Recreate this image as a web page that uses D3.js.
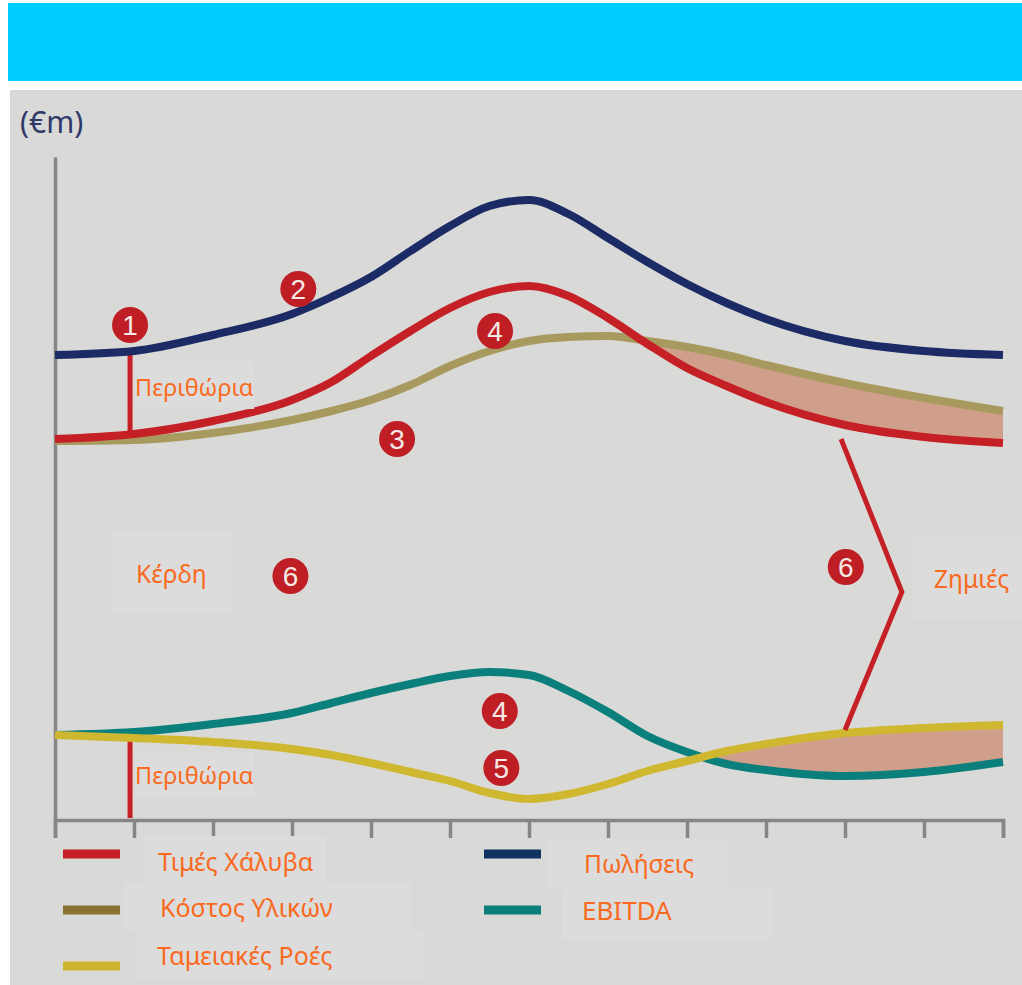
<!DOCTYPE html>
<html>
<head>
<meta charset="utf-8">
<script src="https://cdn.jsdelivr.net/npm/d3@7"></script>
<style>
  html, body { margin: 0; padding: 0; background: #fff; }
  svg { display: block; }
  text { font-family: "Noto Sans", sans-serif; }
</style>
</head>
<body>
<div id="chart"></div>
<script>
// data, half steps on the x axis
let steps = [0, 1, 2, 3, 3.5, 4, 4.5, 5, 5.5, 6, 6.5, 7, 7.5, 8, 8.5, 9, 10, 11, 12];
let sales = [465, 469, 485, 506, 523, 543, 569, 594, 614, 620, 606, 582, 558, 536, 517, 501, 479, 469, 465];
let prices = [381, 386, 399, 420, 438, 464, 489, 512, 528, 534, 524, 502, 476, 452, 434, 418, 395, 383, 377];
let materials = [379, 380, 387, 400, 409, 420, 435, 454, 469, 479, 483, 484, 479, 473, 465, 455, 437, 422, 409];
let ebitda = [85, 88, 96, 107, 117, 127, 136, 144, 148, 145, 129, 108, 84, 68, 56, 50, 44, 48, 58];
let cash = [85, 82, 78, 71, 65, 57, 48, 39, 27, 21, 26, 36, 49, 59, 69, 76, 87, 92, 95];

let xTicks = d3.range(0, 13);
let lossStart = { top: 7.45, bottom: 8.2 };
let marginLines = [
    { x: 0.95, from: 465, to: 386 },
    { x: 0.95, from: 80, to: 2 }
];
let bracket = [[9.95, 381], [10.72, 228], [10, 90]];
let badges = [
    { n: "1", x: 0.95, v: 495 },
    { n: "2", x: 3.08, v: 531 },
    { n: "4", x: 5.57, v: 489 },
    { n: "3", x: 4.33, v: 381 },
    { n: "6", x: 2.98, v: 244 },
    { n: "6", x: 10.01, v: 253 },
    { n: "4", x: 5.63, v: 109 },
    { n: "5", x: 5.65, v: 52 }
];

let series = [
    { name: "materials", values: materials, color: "#a89a5e" },
    { name: "prices", values: prices, color: "#c52026" },
    { name: "sales", values: sales, color: "#1c2a66" },
    { name: "ebitda", values: ebitda, color: "#0b7f7c" },
    { name: "cash", values: cash, color: "#cfb72f" }
];

let legend = [
    { x: 63, y: 854, color: "#c52026" },
    { x: 63, y: 910, color: "#8a7230" },
    { x: 63, y: 966, color: "#ceb42f" },
    { x: 484, y: 854, color: "#0f335f" },
    { x: 484, y: 910, color: "#0b7f7c" }
];

// pale boxes behind the orange labels
let labels = [
    { t: "Περιθώρια", box: [135, 361, 119, 48], x: 135, y: 396, size: 23.5 },
    { t: "Περιθώρια", box: [135, 752, 119, 45], x: 135, y: 784, size: 23.5 },
    { t: "Κέρδη", box: [113, 532, 118, 81], x: 136, y: 583, size: 24.5 },
    { t: "Ζημιές", box: [912, 537, 110, 81], x: 934, y: 588, size: 24.5 },
    { t: "Τιμές Χάλυβα", box: [144, 836, 182, 47], x: 158, y: 871, size: 25 },
    { t: "Κόστος Υλικών", box: [124, 883, 287, 48], x: 160, y: 917, size: 25 },
    { t: "Ταμειακές Ροές", box: [137, 931, 287, 47], x: 157, y: 965, size: 25 },
    { t: "Πωλήσεις", box: [547, 839, 182, 50], x: 584, y: 873, size: 24.5 },
    { t: "EBITDA", box: [562, 889, 210, 51], x: 582, y: 920, size: 26 }
];

let svgwidth = 1022;
let svgheight = 985;

let svg = d3.select("#chart")
    .append("svg")
    .attr("width", svgwidth)
    .attr("height", svgheight);

svg.append("rect").attr("x", 8).attr("y", 3).attr("width", 1014).attr("height", 78).attr("fill", "#00ccff");
svg.append("rect").attr("x", 10).attr("y", 90).attr("width", 1012).attr("height", 895).attr("fill", "#d9d9d7");

let x = d3.scaleLinear().domain([0, 12]).range([55, 1003]);
let y = d3.scaleLinear().domain([0, 663]).range([820, 157]);

let line = d3.line()
    .x((d, i) => x(steps[i]))
    .y(d => y(d))
    .curve(d3.curveMonotoneX);

let band = (upper, lower) => d3.area()
    .x((d, i) => x(steps[i]))
    .y0((d, i) => y(lower[i]))
    .y1((d, i) => y(upper[i]))
    .curve(d3.curveMonotoneX)(upper);

// loss bands, only from where the two lines cross
let defs = svg.append("defs");
defs.append("clipPath").attr("id", "clipTop").append("rect")
    .attr("x", x(lossStart.top)).attr("y", 300).attr("width", x(12) - x(lossStart.top)).attr("height", 200);
defs.append("clipPath").attr("id", "clipBottom").append("rect")
    .attr("x", x(lossStart.bottom)).attr("y", 700).attr("width", x(12) - x(lossStart.bottom)).attr("height", 100);

svg.append("path").attr("d", band(materials, prices)).attr("fill", "#d09f8b").attr("clip-path", "url(#clipTop)");
svg.append("path").attr("d", band(cash, ebitda)).attr("fill", "#d09f8b").attr("clip-path", "url(#clipBottom)");

// axes
let xAxis = svg.append("g")
    .attr("transform", `translate(0, ${y(0)})`)
    .call(d3.axisBottom(x).tickValues(xTicks).tickSize(18).tickFormat(""));
let yAxis = svg.append("g")
    .attr("transform", `translate(${x(0)}, 0)`)
    .call(d3.axisLeft(y).tickValues([]).tickSize(0));
[xAxis, yAxis].forEach(a => {
    a.selectAll("path, line").attr("stroke", "#868686").attr("stroke-width", 3.5);
});

// red margin lines
svg.selectAll(".margin")
    .data(marginLines)
    .enter()
    .append("line")
    .attr("x1", d => x(d.x))
    .attr("x2", d => x(d.x))
    .attr("y1", d => y(d.from))
    .attr("y2", d => y(d.to))
    .attr("stroke", "#c52026")
    .attr("stroke-width", 5);

svg.selectAll(".series")
    .data(series)
    .enter()
    .append("path")
    .attr("d", d => line(d.values))
    .attr("fill", "none")
    .attr("stroke", d => d.color)
    .attr("stroke-width", 8);

svg.append("path")
    .attr("d", d3.line().x(d => x(d[0])).y(d => y(d[1]))(bracket))
    .attr("fill", "none")
    .attr("stroke", "#c52026")
    .attr("stroke-width", 5);

let badge = svg.selectAll(".badge")
    .data(badges)
    .enter()
    .append("g")
    .attr("transform", d => `translate(${x(d.x)}, ${y(d.v)})`);
badge.append("circle").attr("r", 18).attr("fill", "#bf1f24");
badge.append("text")
    .attr("text-anchor", "middle")
    .attr("dy", "0.36em")
    .attr("font-size", 28)
    .style("font-family", "'Liberation Sans', sans-serif")
    .attr("fill", "#f4e9e6")
    .text(d => d.n);

svg.selectAll(".swatch")
    .data(legend)
    .enter()
    .append("rect")
    .attr("x", d => d.x)
    .attr("y", d => d.y - 4.5)
    .attr("width", 57)
    .attr("height", 9)
    .attr("fill", d => d.color);

svg.selectAll(".box")
    .data(labels)
    .enter()
    .append("rect")
    .attr("x", d => d.box[0])
    .attr("y", d => d.box[1])
    .attr("width", d => d.box[2])
    .attr("height", d => d.box[3])
    .attr("fill", "#dcdcdc");

svg.selectAll(".label")
    .data(labels)
    .enter()
    .append("text")
    .attr("x", d => d.x)
    .attr("y", d => d.y)
    .attr("font-size", d => d.size)
    .attr("fill", "#f96a1e")
    .text(d => d.t);

svg.append("text")
    .attr("x", 20)
    .attr("y", 133)
    .attr("font-size", 30)
    .attr("fill", "#2f3a6b")
    .text("(€m)");
</script>
</body>
</html>
